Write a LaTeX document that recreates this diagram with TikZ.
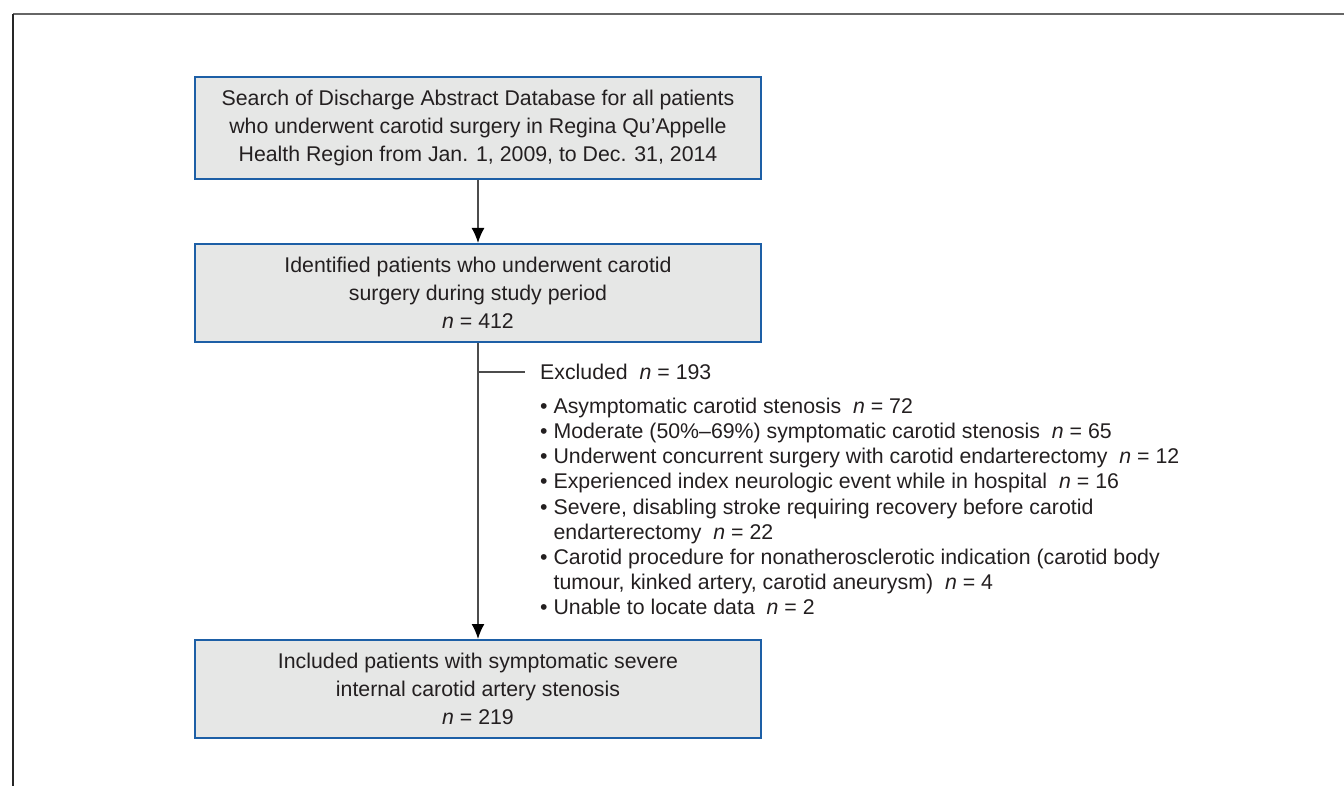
\documentclass[tikz,border=0pt]{standalone}
\usepackage{fontspec}
\setmainfont{Liberation Sans}
\usetikzlibrary{arrows.meta}
\definecolor{boxblue}{HTML}{1D5FA6}
\definecolor{boxgray}{HTML}{E6E7E6}
\definecolor{inkgray}{HTML}{231F20}
\tikzset{
  flowbox/.style={draw=boxblue, line width=2pt, fill=boxgray, text=inkgray,
    minimum width=566pt, align=center, font=\fontsize{21.3}{28}\selectfont},
  flowline/.style={draw=black!70, line width=1.6pt},
  listtext/.style={inner sep=0pt, text=inkgray, font=\fontsize{21.3}{25.1}\selectfont}
}
\newcommand{\nval}{\textit{n}}
\begin{document}
\begin{tikzpicture}[x=1pt, y=-1pt, >={Latex[length=15pt,width=13pt,color=black]}]
		\useasboundingbox (0,0) rectangle (1344,786);
		% Frame
		\draw[black!60, line width=2pt] (13,14) -- (1344,14);
		\draw[black!85, line width=2pt] (13,14) -- (13,786);
		
		% Boxes
		\node[flowbox, minimum height=102pt] (search) at (478,128)
			{Search of Discharge Abstract Database for all patients\\
			who underwent carotid surgery in Regina Qu'Appelle\\
			Health Region from Jan. 1, 2009, to Dec. 31, 2014};
		\node[flowbox, minimum height=98pt] (identified) at (478,293)
			{Identified patients who underwent carotid\\
			surgery during study period\\
			\nval{} = 412};
		\node[flowbox, minimum height=98pt] (included) at (478,689)
			{Included patients with symptomatic severe\\
			internal carotid artery stenosis\\
			\nval{} = 219};
		
		% Arrows
		\draw[flowline, ->] (search) -- (identified);
		\draw[flowline, ->] (identified) -- (included);
		
		% Exclusions
		\coordinate (split) at (477,372);
		\coordinate (exclend) at (525,372);
		\draw[flowline] (split) -- (exclend);
		\node[listtext, anchor=west] (excluded) at (540,372) {Excluded\ \ \nval{} = 193};
		\node[listtext, anchor=north west, align=left] (reasons) at (540,398)
			{• Asymptomatic carotid stenosis\ \ \nval{} = 72\\
			• Moderate (50\%–69\%) symptomatic carotid stenosis\ \ \nval{} = 65\\
			• Underwent concurrent surgery with carotid endarterectomy\ \ \nval{} = 12\\
			• Experienced index neurologic event while in hospital\ \ \nval{} = 16\\
			• Severe, disabling stroke requiring recovery before carotid\\
			\hphantom{• }endarterectomy\ \ \nval{} = 22\\
			• Carotid procedure for nonatherosclerotic indication (carotid body\\
			\hphantom{• }tumour, kinked artery, carotid aneurysm)\ \ \nval{} = 4\\
			• Unable to locate data\ \ \nval{} = 2};
	\end{tikzpicture}
\end{document}
